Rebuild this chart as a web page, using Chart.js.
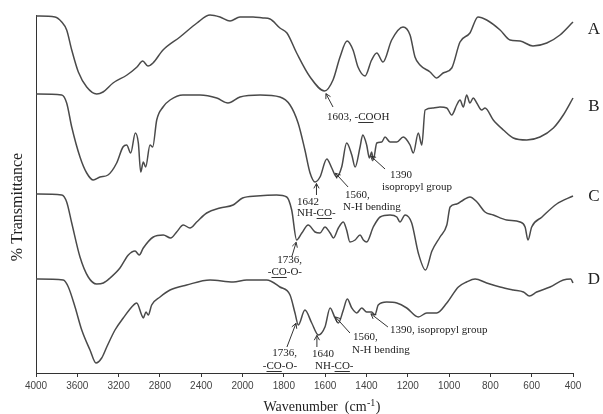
<!DOCTYPE html>
<html>
<head>
<meta charset="utf-8">
<title>FTIR spectra</title>
<script src="https://cdn.jsdelivr.net/npm/chart.js@4.4.1/dist/chart.umd.min.js"></script>
<style>
  html, body { margin: 0; padding: 0; background: #fff; }
</style>
</head>
<body>
<canvas id="ftirChart" width="603" height="414"></canvas>
<script>
// x ticks (wavenumber, cm-1) - scale is doubled below 2000
const tickWaves = [4000, 3600, 3200, 2800, 2400, 2000, 1800, 1600, 1400, 1200, 1000, 800, 600, 400];

const seriesNames = ['A', 'B', 'C', 'D'];

// spectra, stacked %T (offset units)
const aWave = [4000, 3816, 3751, 3703, 3654, 3590, 3509, 3412, 3351, 3254, 3119, 3022, 2967, 2916, 2867, 2770, 2606, 2441, 2315, 2218, 2121, 2025, 1949, 1901, 1867, 1819, 1785, 1738, 1673, 1603, 1562, 1528, 1494, 1465, 1441, 1407, 1375, 1350, 1320, 1278, 1223, 1189, 1165, 1141, 1092, 1060, 1029, 987, 947, 899, 860, 818, 753, 705, 656, 594, 527, 463, 400];
const aTrans = [357, 356, 351, 343, 323, 301, 286, 279, 281, 290, 298, 306, 312, 307, 310, 323, 336, 350, 358, 356, 352, 356, 356, 355, 354, 345, 340, 320, 296, 282, 293, 316, 332, 323, 306, 297, 313, 320, 311, 333, 346, 338, 316, 308, 301, 295, 300, 305, 331, 340, 356, 353, 343, 333, 332, 327, 330, 338, 351];

const bWave = [4000, 3751, 3703, 3654, 3574, 3509, 3445, 3380, 3303, 3219, 3158, 3122, 3083, 3038, 3009, 2986, 2961, 2938, 2896, 2870, 2831, 2770, 2702, 2577, 2412, 2250, 2141, 2025, 1915, 1819, 1770, 1731, 1698, 1673, 1649, 1625, 1592, 1568, 1544, 1520, 1496, 1471, 1455, 1431, 1418, 1399, 1386, 1375, 1367, 1350, 1326, 1310, 1286, 1253, 1222, 1189, 1173, 1149, 1132, 1116, 1076, 1044, 1011, 987, 963, 947, 931, 915, 899, 883, 866, 842, 826, 786, 737, 689, 624, 560, 495, 447, 400];
const bTrans = [279, 278, 270, 246, 216, 200, 193, 196, 198, 210, 226, 228, 220, 240, 230, 201, 211, 206, 228, 226, 253, 266, 273, 278, 278, 275, 270, 276, 278, 276, 268, 250, 223, 200, 191, 196, 214, 205, 196, 206, 230, 218, 206, 226, 238, 228, 215, 221, 213, 230, 231, 236, 231, 231, 236, 228, 220, 240, 228, 263, 265, 266, 265, 258, 268, 273, 266, 278, 270, 275, 270, 263, 265, 253, 243, 235, 233, 236, 245, 258, 275];

const cWave = [4000, 3751, 3703, 3654, 3574, 3494, 3412, 3348, 3283, 3187, 3106, 3041, 3000, 2961, 2864, 2767, 2696, 2638, 2574, 2509, 2444, 2347, 2218, 2092, 2000, 1931, 1835, 1786, 1762, 1738, 1713, 1682, 1649, 1625, 1601, 1576, 1560, 1536, 1512, 1496, 1480, 1455, 1431, 1415, 1399, 1367, 1334, 1286, 1253, 1238, 1213, 1181, 1149, 1114, 1083, 1044, 1011, 995, 963, 931, 899, 865, 826, 786, 721, 656, 632, 618, 600, 550, 479, 400];
const cTrans = [179, 178, 171, 150, 116, 96, 89, 90, 95, 105, 118, 122, 118, 125, 136, 138, 135, 141, 148, 145, 151, 160, 165, 168, 175, 177, 178, 176, 163, 133, 140, 148, 141, 140, 146, 140, 135, 145, 151, 143, 131, 133, 138, 133, 131, 146, 156, 158, 156, 151, 158, 150, 120, 103, 122, 136, 148, 166, 169, 173, 176, 171, 161, 158, 153, 151, 146, 133, 146, 156, 169, 177];

const dWave = [4000, 3736, 3687, 3622, 3557, 3477, 3419, 3364, 3315, 3235, 3155, 3073, 3025, 2977, 2961, 2935, 2913, 2880, 2799, 2702, 2541, 2315, 2090, 1980, 1883, 1819, 1770, 1746, 1730, 1698, 1665, 1633, 1601, 1576, 1552, 1536, 1512, 1493, 1471, 1447, 1423, 1399, 1375, 1359, 1343, 1302, 1253, 1205, 1149, 1108, 1060, 1011, 955, 915, 874, 818, 753, 689, 640, 611, 576, 511, 447, 411, 400];
const dTrans = [94, 93, 86, 66, 43, 23, 10, 15, 26, 43, 55, 66, 70, 58, 55, 61, 58, 68, 76, 83, 88, 93, 91, 93, 93, 86, 78, 60, 48, 63, 50, 38, 46, 65, 55, 50, 63, 74, 65, 60, 65, 61, 61, 58, 68, 71, 70, 65, 56, 60, 60, 70, 86, 91, 94, 90, 86, 83, 81, 77, 81, 86, 93, 94, 90];

const spectra = [[aWave, aTrans], [bWave, bTrans], [cWave, cTrans], [dWave, dTrans]];

// band assignments: arrow to the curve at `wave`, text lines as [wave, value, align, text]
// text between underscores gets underlined
const bands = [
  { series: 0, wave: 1603, tail: [1562, 266], lines: [[1591, 256, 'left', '1603, -_CO_OH']] },
  { series: 1, wave: 1642, tail: [1642, 178], lines: [[1736, 171, 'left', '1642'], [1736, 160, 'left', 'NH-_CO_-']] },
  { series: 1, wave: 1560, tail: [1489, 186], lines: [[1504, 178, 'left', '1560,'], [1513, 166, 'left', 'N-H bending']] },
  { series: 1, wave: 1390, tail: [1310, 204], lines: [[1286, 198, 'left', '1390'], [1325, 186, 'left', 'isopropyl group']] },
  { series: 2, wave: 1736, tail: [1762, 116], lines: [[1712, 113, 'right', '1736,'], [1712, 101, 'right', '-_CO_-O-']] },
  { series: 3, wave: 1736, tail: [1785, 26], lines: [[1736, 20, 'right', '1736,'], [1736, 7, 'right', '-_CO_-O-']] },
  { series: 3, wave: 1640, tail: [1640, 26], lines: [[1664, 19, 'left', '1640'], [1649, 7, 'left', 'NH-_CO_-']] },
  { series: 3, wave: 1560, tail: [1480, 40], lines: [[1465, 36, 'left', '1560,'], [1470, 23, 'left', 'N-H bending']] },
  { series: 3, wave: 1390, tail: [1296, 46], lines: [[1286, 43, 'left', '1390, isopropyl group']] }
];

const nameLevels = [343, 266, 176, 93];

// axis position: 4000-2000 compressed x2, 2000-400 normal
function axisPos(w) {
  return w >= 2000 ? (4000 - w) / 2 : 1000 + (2000 - w);
}
function axisWave(u) {
  return u <= 1000 ? 4000 - 2 * u : 3000 - u;
}

class FtirScale extends Chart.LinearScale {
  buildTicks() {
    return tickWaves.map(v => ({ value: v }));
  }
  getPixelForValue(value) {
    return this.getPixelForDecimal(axisPos(value) / axisPos(400));
  }
  getValueForPixel(pixel) {
    return axisWave(this.getDecimalForPixel(pixel) * axisPos(400));
  }
}
FtirScale.id = 'ftir';
FtirScale.defaults = {};
Chart.register(FtirScale);

function valueAt(waves, trans, w) {
  for (let i = 0; i < waves.length - 1; i++) {
    if (w <= waves[i] && w >= waves[i + 1]) {
      const f = (waves[i] - w) / (waves[i] - waves[i + 1]);
      return trans[i] + f * (trans[i + 1] - trans[i]);
    }
  }
  return trans[trans.length - 1];
}

function drawRich(ctx, x, y, align, text) {
  const parts = text.split('_');
  let total = 0;
  parts.forEach(p => total += ctx.measureText(p).width);
  let cx = align === 'right' ? x - total : x;
  parts.forEach((p, i) => {
    const w = ctx.measureText(p).width;
    ctx.fillText(p, cx, y);
    if (i % 2 === 1) {
      ctx.beginPath();
      ctx.moveTo(cx, y + 5.5);
      ctx.lineTo(cx + w, y + 5.5);
      ctx.stroke();
    }
    cx += w;
  });
}

function drawArrow(ctx, x1, y1, x2, y2) {
  const ang = Math.atan2(y2 - y1, x2 - x1);
  const head = 5.5;
  ctx.beginPath();
  ctx.moveTo(x1, y1);
  ctx.lineTo(x2, y2);
  ctx.moveTo(x2 - head * Math.cos(ang - 0.5), y2 - head * Math.sin(ang - 0.5));
  ctx.lineTo(x2, y2);
  ctx.lineTo(x2 - head * Math.cos(ang + 0.5), y2 - head * Math.sin(ang + 0.5));
  ctx.stroke();
}

const labelPlugin = {
  id: 'ftirLabels',
  afterDraw(chart) {
    const ctx = chart.ctx;
    const x = chart.scales.x;
    const y = chart.scales.y;
    const area = chart.chartArea;
    ctx.save();
    ctx.fillStyle = '#222';
    ctx.strokeStyle = '#333';
    ctx.lineWidth = 1;

    // y title
    ctx.save();
    ctx.translate(18, y.getPixelForValue(166));
    ctx.rotate(-Math.PI / 2);
    ctx.font = '16px "Liberation Serif"';
    ctx.textAlign = 'center';
    ctx.textBaseline = 'middle';
    ctx.fillText('% Transmittance', 0, 0);
    ctx.restore();

    // x title with superscript
    ctx.textBaseline = 'alphabetic';
    ctx.textAlign = 'left';
    const main = 'Wavenumber  (cm';
    ctx.font = '14px "Liberation Serif"';
    const w1 = ctx.measureText(main).width;
    const w3 = ctx.measureText(')').width;
    ctx.font = '10px "Liberation Serif"';
    const w2 = ctx.measureText('-1').width + 1;
    let tx = 322 - (w1 + w2 + w3) / 2;
    const ty = 411;
    ctx.font = '14px "Liberation Serif"';
    ctx.fillText(main, tx, ty);
    ctx.font = '10px "Liberation Serif"';
    ctx.fillText('-1', tx + w1 + 0.5, ty - 5);
    ctx.font = '14px "Liberation Serif"';
    ctx.fillText(')', tx + w1 + w2, ty);

    // spectrum letters
    ctx.font = '17px "Liberation Serif"';
    ctx.textAlign = 'center';
    ctx.textBaseline = 'middle';
    seriesNames.forEach((n, i) => {
      ctx.fillText(n, area.right + 21, y.getPixelForValue(nameLevels[i]));
    });

    // band arrows and text
    ctx.font = '11px "Liberation Serif"';
    ctx.textAlign = 'left';
    bands.forEach(b => {
      const [waves, trans] = spectra[b.series];
      const px = x.getPixelForValue(b.wave);
      const py = y.getPixelForValue(valueAt(waves, trans, b.wave));
      const qx = x.getPixelForValue(b.tail[0]);
      const qy = y.getPixelForValue(b.tail[1]);
      const len = Math.hypot(qx - px, qy - py);
      const tipX = px + (qx - px) / len * 3;
      const tipY = py + (qy - py) / len * 3;
      drawArrow(ctx, qx, qy, tipX, tipY);
      b.lines.forEach(l => {
        drawRich(ctx, x.getPixelForValue(l[0]), y.getPixelForValue(l[1]), l[2], l[3]);
      });
    });
    ctx.restore();
  }
};

const ctxFtir = document.getElementById('ftirChart').getContext('2d');
const ftirChart = new Chart(ctxFtir, {
  type: 'line',
  data: {
    datasets: spectra.map((s, i) => ({
      label: seriesNames[i],
      data: s[0].map((w, k) => ({ x: w, y: s[1][k] })),
      borderColor: '#4a4a4a',
      borderWidth: 1.5,
      pointRadius: 0,
      fill: false,
      cubicInterpolationMode: 'monotone',
      clip: 4
    }))
  },
  options: {
    responsive: false,
    animation: false,
    events: [],
    layout: { padding: { left: 28, right: 30, top: 15, bottom: 19 } },
    plugins: {
      legend: { display: false },
      tooltip: { enabled: false }
    },
    scales: {
      x: {
        type: 'ftir',
        min: 400,
        max: 4000,
        grid: { display: true, drawOnChartArea: false, drawTicks: true, tickLength: 4, color: '#333' },
        border: { display: true, color: '#333', width: 1 },
        ticks: {
          autoSkip: false,
          maxRotation: 0,
          minRotation: 0,
          padding: 3,
          color: '#444',
          font: { family: 'Liberation Sans', size: 10 },
          callback: v => String(v)
        }
      },
      y: {
        type: 'linear',
        min: 0,
        max: 358,
        grid: { display: false },
        border: { display: true, color: '#333', width: 1 },
        ticks: { display: false }
      }
    }
  },
  plugins: [labelPlugin]
});
</script>
</body>
</html>
